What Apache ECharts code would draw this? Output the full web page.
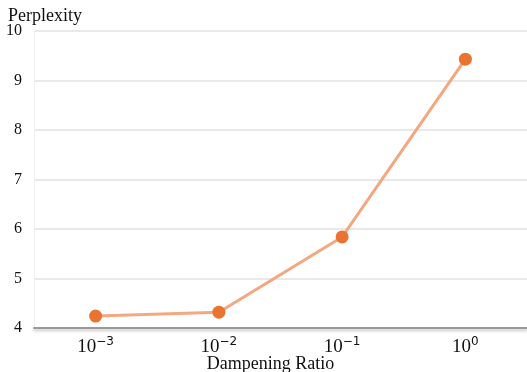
<!DOCTYPE html>
<html><head><meta charset="utf-8">
<script src="https://cdn.jsdelivr.net/npm/echarts@6/dist/echarts.min.js"></script>
<style>html,body{margin:0;padding:0;background:#fff}#c{width:527px;height:372px}</style>
</head><body><div id="c"></div>
<script>
var categories = ['-3', '-2', '-1', '0'];
var perplexity = [4.24, 4.32, 5.84, 9.43];
var yTicks = [4, 5, 6, 7, 8, 9, 10];

var chart = echarts.init(document.getElementById('c'), null, {renderer: 'canvas'});
chart.setOption({
  animation: false,
  title: {text: 'Perplexity', left: 3, top: 2, textStyle: {fontFamily: 'Liberation Serif', fontSize: 18, fontWeight: 'normal', color: '#111'}},
  grid: {left: 34, right: 0, top: 31, bottom: 44, outerBoundsMode: 'none', containLabel: false},
  xAxis: {
    type: 'category', data: categories, boundaryGap: true,
    name: 'Dampening Ratio', nameLocation: 'middle', nameGap: 27, nameMoveOverlap: false,
    nameTextStyle: {fontFamily: 'Liberation Serif', fontSize: 18, color: '#111', padding: [0, 20, 0, 0]},
    axisLine: {lineStyle: {color: '#9a9a9a', width: 2, shadowColor: 'rgba(0,0,0,0.25)', shadowBlur: 3, shadowOffsetY: 2}},
    axisTick: {show: false},
    axisLabel: {margin: 8, formatter: function(v){ return '{b|10}{s|' + v.replace('-', '\u2212') + '}'; },
      rich: {b: {fontFamily: 'Liberation Serif', fontSize: 19, color: '#111', verticalAlign: 'bottom'},
             s: {fontFamily: 'DejaVu Sans', fontSize: 12, color: '#111', verticalAlign: 'top', padding: [0, 0, 9, 0]}}}
  },
  yAxis: {
    type: 'value', min: 4, max: 10, interval: 1,
    axisLine: {show: true, lineStyle: {color: '#f0f0f0', width: 1}},
    axisTick: {show: false},
    splitLine: {lineStyle: {color: '#e2e2e2', width: 1.5}},
    axisLabel: {margin: 12, fontFamily: 'Liberation Serif', fontSize: 16, color: '#111',
      formatter: function(v){ return yTicks.indexOf(v) >= 0 ? String(v) : ''; }}
  },
  series: [{
    type: 'line', data: perplexity,
    lineStyle: {color: '#f3a882', width: 3},
    symbol: 'circle', symbolSize: 13,
    itemStyle: {color: '#ea7331'}
  }]
});
</script></body></html>
